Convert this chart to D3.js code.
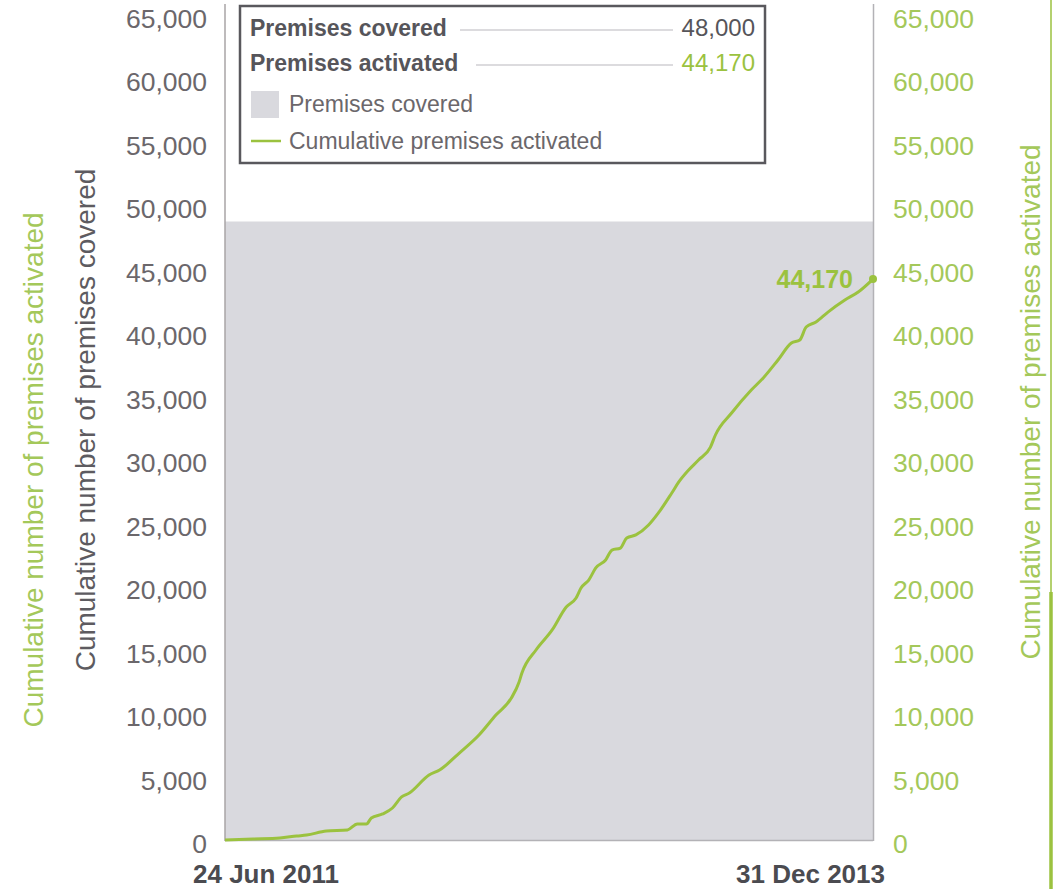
<!DOCTYPE html>
<html>
<head>
<meta charset="utf-8">
<script src="https://cdn.jsdelivr.net/npm/d3@7/dist/d3.min.js"></script>
<style>
  html, body { margin: 0; padding: 0; background: #ffffff; }
  svg { display: block; font-family: "Liberation Sans", Arial, Helvetica, sans-serif; }
</style>
</head>
<body>
<svg id="chart" width="1056" height="889"></svg>
<script>
// ---- Data ----
const activationDates = [
  "2011-06-24","2011-08-03","2011-09-10","2011-10-04","2011-10-18","2011-11-15","2011-12-15","2011-12-29",
  "2012-01-11","2012-01-18","2012-02-03","2012-02-17","2012-03-01","2012-03-12","2012-04-09","2012-04-24",
  "2012-05-22","2012-06-19","2012-07-13","2012-08-04","2012-08-15","2012-08-19","2012-09-08","2012-10-01",
  "2012-10-21","2012-11-04","2012-11-11","2012-11-22","2012-12-02","2012-12-16","2012-12-25","2013-01-06",
  "2013-01-15","2013-01-28","2013-02-15","2013-03-01","2013-03-20","2013-03-30","2013-04-13","2013-04-27",
  "2013-05-14","2013-05-21","2013-06-13","2013-07-11","2013-07-28","2013-08-18","2013-09-06","2013-09-18",
  "2013-09-27","2013-10-11","2013-10-28","2013-11-21","2013-12-10","2013-12-31"
];
const activatedValues = [
  0, 80, 160, 315, 390, 710, 790, 1260,
  1260, 1730, 2050, 2520, 3390, 3700, 5120, 5510,
  6850, 8270, 9840, 11180, 12440, 13150, 14960, 16540,
  18350, 19060, 19840, 20470, 21420, 22050, 22830, 22990,
  23780, 24020, 24800, 25750, 27320, 28190, 29130, 29920,
  30940, 31890, 33620, 35430, 36380, 37800, 39130, 39370,
  40390, 40790, 41570, 42520, 43150, 44170
];
const coveredDates = ["2011-06-24", "2013-12-31"];
const coveredValues = [48700, 48700];   // as drawn in the picture
const dateLabels = ["24 Jun 2011", "31 Dec 2013"];
const yTicks = [0,5000,10000,15000,20000,25000,30000,35000,40000,45000,50000,55000,60000,65000];
const summaryLabels = ["Premises covered", "Premises activated"];
const summaryValues = ["48,000", "44,170"];
const legendLabels = ["Premises covered", "Cumulative premises activated"];
const endLabel = "44,170";
const leftTitleActivated = "Cumulative number of premises activated";
const leftTitleCovered = "Cumulative number of premises covered";
const rightTitle = "Cumulative number of premises activated";

// ---- Styles ----
const GREEN = "#9bc23f";
const GREEN_TEXT = "#a4c85a";
const GREY_TEXT = "#6b676b";
const DARK_TEXT = "#56555a";
const FILL = "#d9d9de";

const parse = d3.timeParse("%Y-%m-%d");
const activated = activationDates.map((d, i) => ({ date: parse(d), value: activatedValues[i] }));
const covered = coveredDates.map((d, i) => ({ date: parse(d), value: coveredValues[i] }));

const svg = d3.select("#chart");
const x = d3.scaleTime().domain([parse("2011-06-24"), parse("2013-12-31")]).range([225, 873]);
const y = d3.scaleLinear().domain([0, 65000]).range([840, 14.5]);

// covered area
const area = d3.area().x(d => x(d.date)).y0(y(0)).y1(d => y(d.value));
svg.append("path").datum(covered).attr("d", area).attr("fill", FILL);
svg.append("line").attr("x1", 225).attr("x2", 873).attr("y1", y(0) + 0.5).attr("y2", y(0) + 0.5)
  .attr("stroke", "#b3b2b6").attr("stroke-width", 1.5);

// axis lines
svg.append("line").attr("x1", 225).attr("x2", 225).attr("y1", 4).attr("y2", y(0) + 1)
  .attr("stroke", "#a8a4a6").attr("stroke-width", 1.5);
svg.append("line").attr("x1", 873.5).attr("x2", 873.5).attr("y1", 4).attr("y2", y(0) + 1)
  .attr("stroke", "#b3b2b6").attr("stroke-width", 1.5);

// left axis
const fmt = d3.format(",");
const leftAxis = d3.axisLeft(y).tickValues(yTicks).tickFormat(fmt).tickSize(0).tickPadding(18);
const gl = svg.append("g").attr("transform", "translate(225,4.5)").call(leftAxis);
gl.select(".domain").remove();
gl.selectAll("text").attr("fill", GREY_TEXT).style("font-size", "26.5px")
  .style("font-family", "'Liberation Sans', Arial, sans-serif");

// right axis
const rightAxis = d3.axisRight(y).tickValues(yTicks).tickFormat(fmt).tickSize(0).tickPadding(20);
const gr = svg.append("g").attr("transform", "translate(873,4.5)").call(rightAxis);
gr.select(".domain").remove();
gr.selectAll("text").attr("fill", GREEN_TEXT).style("font-size", "26.5px")
  .style("font-family", "'Liberation Sans', Arial, sans-serif");

// activated line
const line = d3.line().x(d => x(d.date)).y(d => y(d.value)).curve(d3.curveMonotoneX);
svg.append("path").datum(activated).attr("d", line).attr("fill", "none")
  .attr("stroke", GREEN).attr("stroke-width", 3).attr("stroke-linejoin", "round");
const last = activated[activated.length - 1];
svg.append("circle").attr("cx", x(last.date)).attr("cy", y(last.value)).attr("r", 4).attr("fill", GREEN);
svg.append("text").attr("x", x(last.date) - 20).attr("y", y(last.value) + 9)
  .attr("text-anchor", "end").attr("fill", GREEN).attr("font-weight", "bold")
  .style("font-size", "25px").text(endLabel);

// date labels
svg.append("text").attr("x", x(parse(coveredDates[0])) - 32).attr("y", 883)
  .attr("fill", "#4b4b50").attr("font-weight", "bold").style("font-size", "26px").text(dateLabels[0]);
svg.append("text").attr("x", x(parse(coveredDates[1])) + 12).attr("y", 883).attr("text-anchor", "end")
  .attr("fill", "#4b4b50").attr("font-weight", "bold").style("font-size", "26px").text(dateLabels[1]);

// axis titles
svg.append("text").attr("transform", "translate(43,470) rotate(-90)").attr("text-anchor", "middle")
  .attr("fill", GREEN_TEXT).style("font-size", "28px").text(leftTitleActivated);
svg.append("text").attr("transform", "translate(95,420) rotate(-90)").attr("text-anchor", "middle")
  .attr("fill", "#5d5b60").style("font-size", "28px").text(leftTitleCovered);
svg.append("text").attr("transform", "translate(1040,402) rotate(-90)").attr("text-anchor", "middle")
  .attr("fill", GREEN_TEXT).style("font-size", "28px").text(rightTitle);

// right edge border
svg.append("line").attr("x1", 1051).attr("x2", 1051).attr("y1", 0).attr("y2", 592)
  .attr("stroke", GREEN).attr("stroke-width", 1.5);
svg.append("line").attr("x1", 1051).attr("x2", 1051).attr("y1", 592).attr("y2", 889)
  .attr("stroke", GREEN).attr("stroke-width", 3.5);

// legend box
const lg = svg.append("g");
lg.append("rect").attr("x", 240).attr("y", 6).attr("width", 525).attr("height", 157)
  .attr("fill", "#ffffff").attr("stroke", "#59585d").attr("stroke-width", 2.5);
const rowY = [36, 71];
const lineStart = [460, 476];
summaryLabels.forEach((lab, i) => {
  lg.append("text").attr("x", 250).attr("y", rowY[i]).attr("fill", DARK_TEXT)
    .attr("font-weight", "bold").style("font-size", "23px").text(lab);
  lg.append("line").attr("x1", lineStart[i]).attr("x2", 673).attr("y1", rowY[i] - 6).attr("y2", rowY[i] - 6)
    .attr("stroke", "#d0cfd3").attr("stroke-width", 1.5);
  lg.append("text").attr("x", 755).attr("y", rowY[i]).attr("text-anchor", "end")
    .attr("fill", i === 0 ? DARK_TEXT : GREEN).style("font-size", "24px")
    .attr("font-weight", "500").text(summaryValues[i]);
});
lg.append("rect").attr("x", 251).attr("y", 91).attr("width", 28).attr("height", 27).attr("fill", FILL);
lg.append("text").attr("x", 289).attr("y", 112).attr("fill", GREY_TEXT).style("font-size", "23px").text(legendLabels[0]);
lg.append("line").attr("x1", 251).attr("x2", 281).attr("y1", 141).attr("y2", 141)
  .attr("stroke", GREEN).attr("stroke-width", 2.5);
lg.append("text").attr("x", 289).attr("y", 149).attr("fill", GREY_TEXT).style("font-size", "23px").text(legendLabels[1]);
</script>
</body>
</html>
